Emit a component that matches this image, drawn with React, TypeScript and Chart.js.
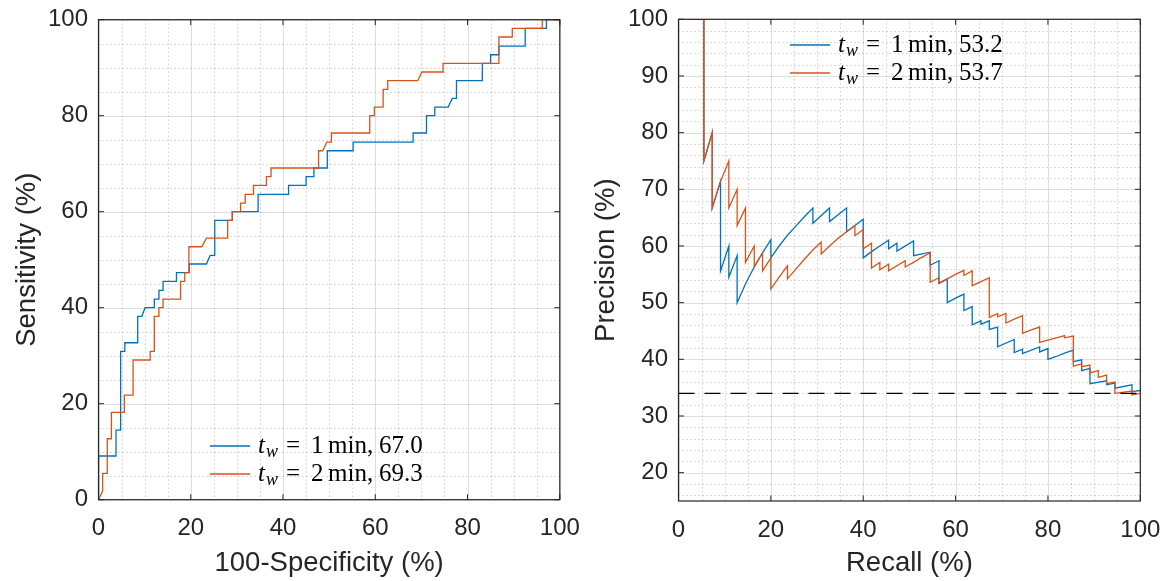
import React, { useEffect, useRef } from "react";
import { Chart, registerables } from "chart.js";

Chart.register(...registerables);

// ---------- DATA ----------
// ROC curves (x = 100 - specificity, y = sensitivity)
const rocFpr1 = [0, 0, 3.8, 3.8, 4.8, 4.8, 5.7, 5.7, 8.5, 8.5, 9.4, 10.1, 12.1, 12.1, 13.1, 13.1, 14.0, 14.0, 16.9, 16.9, 19.7, 19.7, 23.4, 24.2, 25.2, 25.2, 29.0, 29.0, 34.6, 34.6, 41.2, 41.2, 45.0, 45.0, 46.7, 46.7, 49.6, 49.6, 55.2, 55.2, 68.2, 68.2, 71.1, 71.1, 72.9, 72.9, 75.8, 76.7, 77.6, 77.6, 83.2, 83.2, 85.0, 85.0, 86.8, 86.8, 92.5, 92.5, 97.1, 97.1, 100];
const rocTpr1 = [0, 9.1, 9.1, 14.5, 14.5, 30.9, 30.9, 32.7, 32.7, 38.2, 38.2, 40.0, 40.0, 41.8, 41.8, 43.6, 43.6, 45.5, 45.5, 47.3, 47.3, 49.1, 49.1, 50.9, 50.9, 58.2, 58.2, 60.0, 60.0, 63.6, 63.6, 65.5, 65.5, 67.3, 67.3, 69.1, 69.1, 72.7, 72.7, 74.5, 74.5, 76.4, 76.4, 80.0, 80.0, 81.8, 81.8, 83.6, 83.6, 87.3, 87.3, 90.9, 90.9, 92.7, 92.7, 94.5, 94.5, 98.2, 98.2, 100, 100];

const rocFpr2 = [0, 0.9, 0.9, 1.9, 1.9, 2.8, 2.8, 5.6, 5.6, 7.5, 7.5, 11.2, 11.2, 12.1, 12.1, 13.1, 13.1, 14.0, 14.0, 17.8, 17.8, 18.7, 18.7, 19.6, 19.6, 22.4, 23.4, 28.0, 28.0, 29.0, 29.0, 30.8, 30.8, 31.8, 31.8, 33.6, 33.6, 36.4, 36.4, 37.4, 37.4, 47.7, 47.7, 48.6, 49.5, 50.5, 50.5, 58.8, 58.8, 59.8, 59.8, 61.7, 61.7, 62.7, 62.7, 69.2, 70.1, 74.7, 74.7, 86.8, 86.8, 89.7, 89.7, 96.2, 96.2, 100];
const rocTpr2 = [0, 1.8, 5.5, 5.5, 12.7, 12.7, 18.2, 18.2, 21.8, 21.8, 29.1, 29.1, 30.9, 30.9, 38.2, 38.2, 40.0, 40.0, 41.8, 41.8, 45.5, 45.5, 47.3, 47.3, 52.7, 52.7, 54.5, 54.5, 58.2, 58.2, 60.0, 60.0, 61.8, 61.8, 63.6, 63.6, 65.5, 65.5, 67.3, 67.3, 69.1, 69.1, 72.7, 72.7, 74.5, 74.5, 76.4, 76.4, 80.0, 80.0, 81.8, 81.8, 85.5, 85.5, 87.3, 87.3, 89.1, 89.1, 90.9, 90.9, 96.4, 96.4, 98.2, 98.2, 100, 100];

// Precision-recall curves
const prRecall1 = [1.8, 5.5, 5.5, 7.3, 7.3, 9.1, 9.1, 10.9, 10.9, 12.7, 12.7, 14.5, 16.4, 18.2, 20.0, 20.0, 21.8, 23.6, 25.5, 27.3, 29.1, 29.1, 32.7, 32.7, 36.4, 36.4, 40.0, 40.0, 41.8, 43.6, 45.5, 45.5, 47.3, 47.3, 50.9, 50.9, 54.5, 54.5, 56.4, 56.4, 58.2, 58.2, 60.0, 61.8, 61.8, 63.6, 63.6, 65.5, 65.5, 67.3, 67.3, 69.1, 69.1, 72.7, 72.7, 74.5, 74.5, 78.2, 78.2, 80.0, 80.0, 81.8, 83.6, 85.5, 85.5, 87.3, 87.3, 89.1, 89.1, 92.7, 92.7, 94.5, 94.5, 98.2, 98.2, 100];
const prPrecision1 = [100, 100, 75.0, 80.0, 66.7, 71.4, 55.6, 60.0, 54.5, 58.3, 50.0, 53.3, 56.3, 58.8, 61.1, 57.9, 60.0, 61.9, 63.6, 65.2, 66.7, 64.0, 66.7, 64.3, 66.7, 62.5, 64.7, 57.9, 59.0, 60.0, 61.0, 59.5, 60.5, 59.1, 60.9, 58.3, 58.9, 56.6, 57.4, 53.4, 54.2, 50.0, 50.8, 51.5, 48.6, 49.3, 46.1, 46.8, 46.2, 46.8, 45.3, 45.7, 42.2, 43.5, 41.2, 41.8, 41.0, 42.2, 41.3, 41.9, 40.0, 40.5, 41.1, 41.6, 39.6, 39.9, 38.0, 38.4, 35.7, 36.2, 35.5, 35.8, 34.9, 35.5, 34.3, 34.5];

const prRecall2 = [1.8, 5.5, 5.5, 7.3, 7.3, 9.1, 10.9, 10.9, 12.7, 12.7, 14.5, 14.5, 16.4, 16.4, 18.2, 18.2, 20.0, 20.0, 21.8, 23.6, 23.6, 25.5, 27.3, 29.1, 30.9, 30.9, 32.7, 34.5, 36.4, 38.2, 38.2, 40.0, 40.0, 41.8, 41.8, 43.6, 43.6, 45.5, 45.5, 47.3, 49.1, 49.1, 50.9, 52.7, 54.5, 54.5, 56.4, 56.4, 58.2, 60.0, 61.8, 61.8, 63.6, 63.6, 65.5, 67.3, 67.3, 69.1, 69.1, 70.9, 70.9, 72.7, 74.5, 74.5, 76.4, 78.2, 78.2, 80.0, 81.8, 83.6, 83.6, 85.5, 85.5, 87.3, 87.3, 89.1, 89.1, 90.9, 90.9, 92.7, 92.7, 94.5, 94.5, 98.2, 98.2, 100];
const prPrecision2 = [100, 100, 75.0, 80.0, 66.7, 71.4, 75.0, 66.7, 70.0, 63.6, 66.7, 57.1, 60.0, 56.3, 58.8, 55.6, 57.9, 52.4, 54.5, 56.5, 54.2, 56.0, 57.7, 59.3, 60.7, 58.6, 60.0, 61.3, 62.5, 63.6, 61.8, 62.9, 59.5, 60.5, 56.1, 57.1, 55.8, 56.8, 55.6, 56.5, 57.4, 56.3, 57.1, 58.0, 58.8, 53.6, 54.4, 53.4, 54.2, 55.0, 55.7, 54.8, 55.6, 53.0, 53.7, 54.4, 47.4, 48.1, 47.5, 48.1, 46.4, 47.1, 47.7, 44.6, 45.2, 45.7, 43.0, 43.4, 43.8, 44.2, 43.8, 44.1, 38.8, 39.2, 38.7, 39.0, 37.6, 38.0, 36.8, 37.2, 35.7, 36.0, 34.0, 34.4, 33.7, 34.0];

// chance-level precision line
const baselineRecall = [0, 100];
const baselinePrecision = [34.0, 34.0];

// ticks & labels
const rocTicks = [0, 20, 40, 60, 80, 100];
const prXTicks = [0, 20, 40, 60, 80, 100];
const prYTicks = [20, 30, 40, 50, 60, 70, 80, 90, 100];
const seriesWindows = ["1", "2"];
const rocScores = ["67.0", "69.3"];
const prScores = ["53.2", "53.7"];

// ---------- STYLE ----------
const BLUE = "#0072BD";
const ORANGE = "#D95319";
const AXIS = "#262626";
const SANS = '"Liberation Sans", Arial, Helvetica, sans-serif';
const SERIF = '"Liberation Serif", "Times New Roman", serif';
const TICK_FONT = { family: SANS, size: 24 };
const TITLE_FONT = { family: SANS, size: 27.5 };

const zip = (xs: number[], ys: number[]) => xs.map((x, i) => ({ x, y: ys[i] }));

type PluginOpts = {
  xMinorStep: number;
  yMinorStep: number;
  xMajor: number[];
  yMajor: number[];
  legend: { x: number; y: number; windows: string[]; scores: string[] };
};

function drawLegend(ctx: CanvasRenderingContext2D, lx: number, ly: number, windows: string[], scores: string[]) {
  const colors = [BLUE, ORANGE];
  const rowGap = 28;
  windows.forEach((w, i) => {
    const y = ly + i * rowGap;
    ctx.save();
    ctx.strokeStyle = colors[i];
    ctx.lineWidth = 1.3;
    ctx.setLineDash([]);
    ctx.beginPath();
    ctx.moveTo(lx, y);
    ctx.lineTo(lx + 40, y);
    ctx.stroke();
    const tx = lx + 48;
    const base = y + 6.5;
    ctx.fillStyle = "#000";
    ctx.textBaseline = "alphabetic";
    ctx.textAlign = "left";
    ctx.font = `italic 25px ${SERIF}`;
    ctx.fillText("t", tx, base);
    ctx.font = `italic 18px ${SERIF}`;
    ctx.fillText("w", tx + 8, base + 4);
    ctx.font = `25px ${SERIF}`;
    ctx.fillText("=", tx + 28, base);
    ctx.fillText(w, tx + 53, base);
    ctx.fillText("min,", tx + 70, base);
    ctx.fillText(scores[i], tx + 121, base);
    ctx.restore();
  });
}

const matlabPlugin = {
  id: "matlab",
  beforeDatasetsDraw(chart: any, _args: any, opts: PluginOpts) {
    const { ctx, chartArea: a, scales } = chart;
    const xs = scales.x;
    const ys = scales.y;
    ctx.save();
    // minor grid (dotted)
    ctx.lineWidth = 1;
    ctx.strokeStyle = "rgba(38,38,38,0.32)";
    ctx.setLineDash([1, 3]);
    for (let v = xs.min + opts.xMinorStep; v < xs.max - 1e-6; v += opts.xMinorStep) {
      if (opts.xMajor.some((m) => Math.abs(m - v) < 1e-6)) continue;
      const px = Math.round(xs.getPixelForValue(v)) + 0.5;
      ctx.beginPath();
      ctx.moveTo(px, a.top);
      ctx.lineTo(px, a.bottom);
      ctx.stroke();
    }
    const yStart = Math.ceil((ys.min + 1e-6) / opts.yMinorStep) * opts.yMinorStep;
    for (let v = yStart; v < ys.max - 1e-6; v += opts.yMinorStep) {
      if (opts.yMajor.some((m) => Math.abs(m - v) < 1e-6)) continue;
      const py = Math.round(ys.getPixelForValue(v)) + 0.5;
      ctx.beginPath();
      ctx.moveTo(a.left, py);
      ctx.lineTo(a.right, py);
      ctx.stroke();
    }
    // major grid
    ctx.setLineDash([]);
    ctx.strokeStyle = "rgba(38,38,38,0.15)";
    opts.xMajor.forEach((v) => {
      const px = Math.round(xs.getPixelForValue(v)) + 0.5;
      ctx.beginPath();
      ctx.moveTo(px, a.top);
      ctx.lineTo(px, a.bottom);
      ctx.stroke();
    });
    opts.yMajor.forEach((v) => {
      const py = Math.round(ys.getPixelForValue(v)) + 0.5;
      ctx.beginPath();
      ctx.moveTo(a.left, py);
      ctx.lineTo(a.right, py);
      ctx.stroke();
    });
    ctx.restore();
  },
  afterDatasetsDraw(chart: any, _args: any, opts: PluginOpts) {
    const { ctx, chartArea: a, scales } = chart;
    const xs = scales.x;
    const ys = scales.y;
    ctx.save();
    ctx.setLineDash([]);
    ctx.strokeStyle = AXIS;
    ctx.lineWidth = 1.2;
    ctx.strokeRect(a.left, a.top, a.right - a.left, a.bottom - a.top);
    const tl = 5.5;
    ctx.lineWidth = 1;
    opts.xMajor.forEach((v) => {
      const px = xs.getPixelForValue(v);
      ctx.beginPath();
      ctx.moveTo(px, a.bottom);
      ctx.lineTo(px, a.bottom - tl);
      ctx.moveTo(px, a.top);
      ctx.lineTo(px, a.top + tl);
      ctx.stroke();
    });
    opts.yMajor.forEach((v) => {
      const py = ys.getPixelForValue(v);
      ctx.beginPath();
      ctx.moveTo(a.left, py);
      ctx.lineTo(a.left + tl, py);
      ctx.moveTo(a.right, py);
      ctx.lineTo(a.right - tl, py);
      ctx.stroke();
    });
    ctx.restore();
    drawLegend(ctx, opts.legend.x, opts.legend.y, opts.legend.windows, opts.legend.scores);
  },
};

// invisible tick marks used only as label offset (ticks.padding would also pad the chart area)
const hiddenTickGrid = (len: number) => ({
  display: true,
  drawOnChartArea: false,
  drawTicks: true,
  tickLength: len,
  tickColor: "rgba(0,0,0,0)",
  color: "rgba(0,0,0,0)",
});

function makeConfig(p: {
  datasets: any[];
  xTicks: number[];
  yTicks: number[];
  yMin: number;
  yMax: number;
  xTitle: string;
  yTitle: string;
  padLeft: number;
  padTop: number;
  padRight: number;
  yAxisWidth: number;
  xAxisHeight: number;
  yTitlePad: number;
  yMinorStep: number;
  legend: PluginOpts["legend"];
}) {
  return {
    type: "line",
    data: { datasets: p.datasets },
    plugins: [matlabPlugin],
    options: {
      responsive: false,
      animation: false,
      devicePixelRatio: 1,
      layout: { padding: { left: p.padLeft, top: p.padTop, right: p.padRight, bottom: 0 } },
      elements: { point: { radius: 0 }, line: { tension: 0 } },
      plugins: {
        legend: { display: false },
        tooltip: { enabled: false },
        matlab: {
          xMinorStep: 5,
          yMinorStep: p.yMinorStep,
          xMajor: p.xTicks,
          yMajor: p.yTicks,
          legend: p.legend,
        },
      },
      scales: {
        x: {
          type: "linear",
          min: 0,
          max: 100,
          afterBuildTicks: (s: any) => {
            s.ticks = p.xTicks.map((v) => ({ value: v }));
          },
          afterFit: (s: any) => {
            s.height = p.xAxisHeight;
          },
          grid: hiddenTickGrid(14.5),
          border: { display: false },
          ticks: { font: TICK_FONT, color: AXIS, padding: 0, maxRotation: 0, autoSkip: false },
          title: {
            display: true,
            text: p.xTitle,
            font: TITLE_FONT,
            color: AXIS,
            padding: { top: 0, bottom: 1 },
          },
        },
        y: {
          type: "linear",
          min: p.yMin,
          max: p.yMax,
          afterBuildTicks: (s: any) => {
            s.ticks = p.yTicks.map((v) => ({ value: v }));
          },
          afterFit: (s: any) => {
            s.width = p.yAxisWidth;
          },
          grid: hiddenTickGrid(10.5),
          border: { display: false },
          ticks: { font: TICK_FONT, color: AXIS, padding: 0, autoSkip: false },
          title: {
            display: true,
            text: p.yTitle,
            font: TITLE_FONT,
            color: AXIS,
            padding: { top: p.yTitlePad, bottom: 0 },
          },
        },
      },
    },
  };
}

const lineDs = (label: string, data: any[], color: string, order: number, dash?: number[]) => ({
  label,
  data,
  borderColor: color,
  backgroundColor: color,
  borderWidth: 1.3,
  borderDash: dash || [],
  pointRadius: 0,
  fill: false,
  order,
});

function ChartCanvas({ config, width, height, left }: { config: any; width: number; height: number; left: number }) {
  const ref = useRef<HTMLCanvasElement | null>(null);
  useEffect(() => {
    if (!ref.current) return;
    const chart = new Chart(ref.current, config);
    return () => chart.destroy();
  }, []);
  return (
    <canvas
      ref={ref}
      width={width}
      height={height}
      style={{ position: "absolute", left, top: 0, width, height }}
    />
  );
}

export default function App() {
  const LEFT_W = 583;
  const RIGHT_W = 1166 - LEFT_W;

  const rocConfig = makeConfig({
    datasets: [
      lineDs("t_w = 1 min", zip(rocFpr1, rocTpr1), BLUE, 2),
      lineDs("t_w = 2 min", zip(rocFpr2, rocTpr2), ORANGE, 1),
    ],
    xTicks: rocTicks,
    yTicks: rocTicks,
    yMin: 0,
    yMax: 100,
    xTitle: "100-Specificity (%)",
    yTitle: "Sensitivity (%)",
    padLeft: 0,
    padTop: 19.7,
    padRight: LEFT_W - 559.8,
    yAxisWidth: 98.5,
    xAxisHeight: 581 - 499.7,
    yTitlePad: 11,
    yMinorStep: 5,
    legend: { x: 210, y: 446, windows: seriesWindows, scores: rocScores },
  });

  const prConfig = makeConfig({
    datasets: [
      lineDs("t_w = 1 min", zip(prRecall1, prPrecision1), BLUE, 2),
      lineDs("t_w = 2 min", zip(prRecall2, prPrecision2), ORANGE, 1),
      lineDs("baseline", zip(baselineRecall, baselinePrecision), "#000000", 0, [16, 10]),
    ],
    xTicks: prXTicks,
    yTicks: prYTicks,
    yMin: 15,
    yMax: 100,
    xTitle: "Recall (%)",
    yTitle: "Precision (%)",
    padLeft: 0,
    padTop: 19.3,
    padRight: 1166 - 1140.3,
    yAxisWidth: 678.5 - LEFT_W,
    xAxisHeight: 581 - 501,
    yTitlePad: 7,
    yMinorStep: 2,
    legend: { x: 790 - LEFT_W, y: 45, windows: seriesWindows, scores: prScores },
  });

  return (
    <div style={{ position: "absolute", left: 0, top: 0, width: 1166, height: 581, background: "#ffffff", overflow: "hidden" }}>
      <ChartCanvas config={rocConfig} width={LEFT_W} height={581} left={0} />
      <ChartCanvas config={prConfig} width={RIGHT_W} height={581} left={LEFT_W} />
    </div>
  );
}
